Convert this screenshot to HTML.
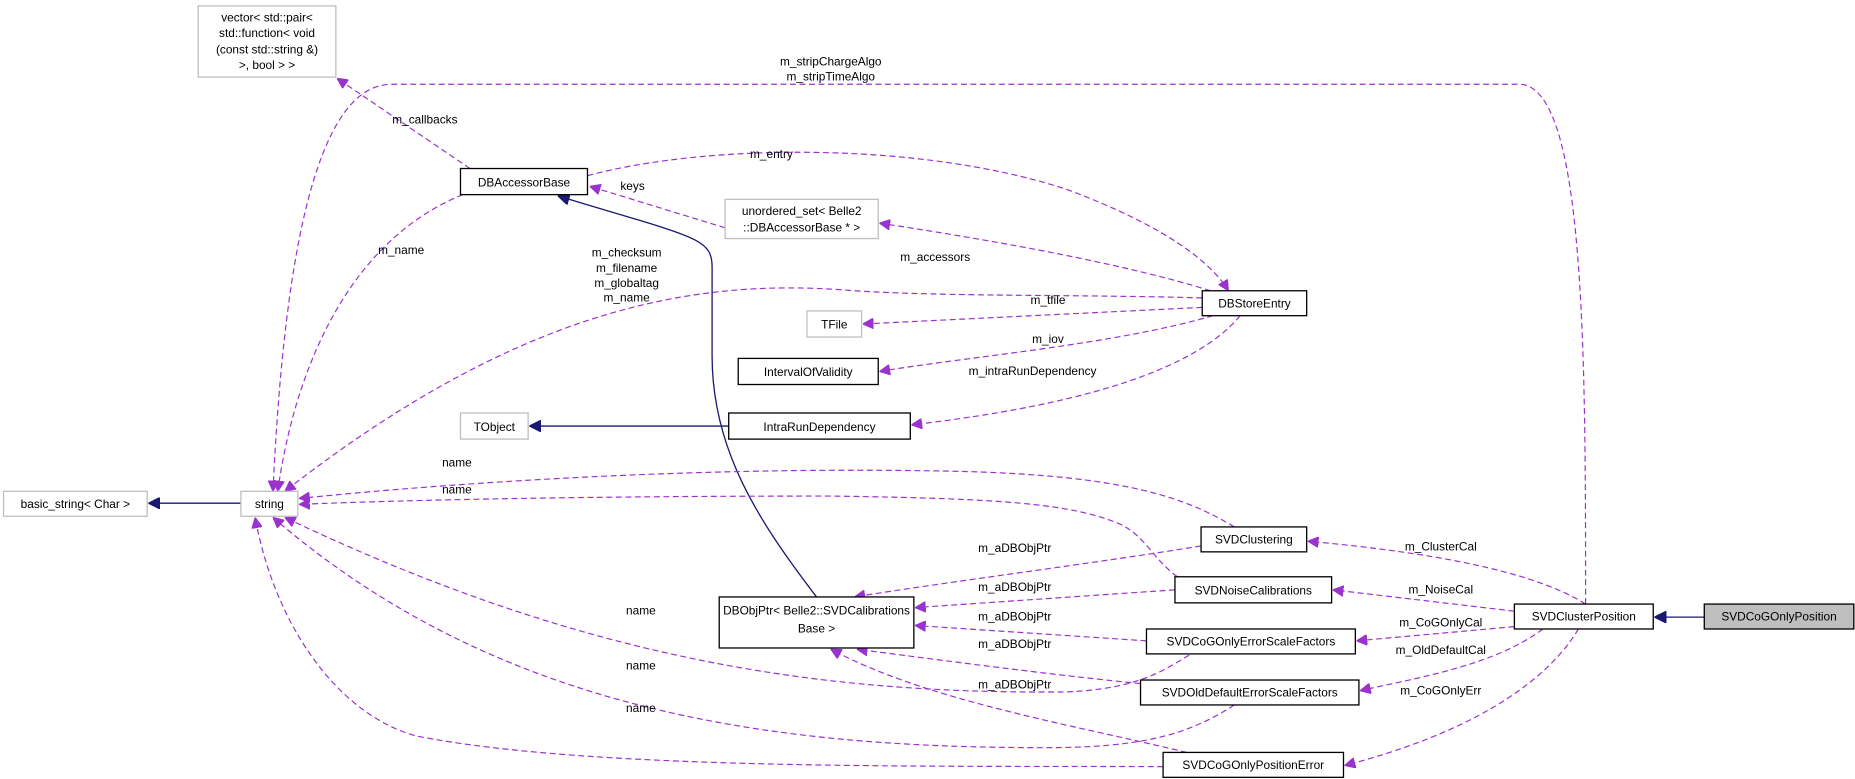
<!DOCTYPE html>
<html><head><meta charset="utf-8"><style>
html,body{margin:0;padding:0;background:#fff;}
svg{display:block;}
text{font-family:"Liberation Sans",Arial,sans-serif;font-size:10px;fill:#000;}
.n{fill:#fff;stroke:#000;stroke-width:1.1;}
.g{fill:#fff;stroke:#bfbfbf;stroke-width:1.1;}
.e{fill:none;stroke:#9a32cd;stroke-width:1;stroke-dasharray:5,3;}
.i{fill:none;stroke:#191970;stroke-width:1.1;}
</style></head><body>
<svg width="1855" height="779" viewBox="0 0 1563 656.4" preserveAspectRatio="none" xmlns="http://www.w3.org/2000/svg">
<defs>
<marker id="p" viewBox="0 0 10 10" refX="10" refY="5" markerWidth="9" markerHeight="9" orient="auto" markerUnits="userSpaceOnUse"><path d="M0,0 L10,5 L0,10 z" fill="#9a32cd" stroke="#9a32cd"/></marker>
<marker id="b" viewBox="0 0 10 10" refX="10" refY="5" markerWidth="10" markerHeight="10" orient="auto" markerUnits="userSpaceOnUse"><path d="M0,0 L10,5 L0,10 z" fill="#191970" stroke="#191970"/></marker>
</defs>

<path class="e" marker-end="url(#p)" d="M1336,509 C1336,300 1336,71 1280,71 L330,71 C270,71 240,200 230,414"/>
<text x="700" y="55" text-anchor="middle">m_stripChargeAlgo</text>
<text x="700" y="68" text-anchor="middle">m_stripTimeAlgo</text>

<path class="e" marker-end="url(#p)" d="M396,142 L284,66"/>
<text x="358" y="104" text-anchor="middle">m_callbacks</text>

<path class="e" marker-end="url(#p)" d="M390,164 C300,200 250,300 234,414"/>
<text x="338" y="214" text-anchor="middle">m_name</text>

<path class="e" marker-end="url(#p)" d="M495,148 C600,120 780,120 900,160 C980,190 1020,220 1035,245"/>
<text x="650" y="133" text-anchor="middle">m_entry</text>

<path class="e" marker-end="url(#p)" d="M611,192 L497,157"/>
<text x="533" y="160" text-anchor="middle">keys</text>

<path class="e" marker-end="url(#p)" d="M1020,245 C940,220 820,200 741,188"/>
<text x="788" y="220" text-anchor="middle">m_accessors</text>

<path class="e" marker-end="url(#p)" d="M1013,251 C900,248 800,250 720,245 C600,235 450,250 240,414"/>
<text x="528" y="216" text-anchor="middle">m_checksum</text>
<text x="528" y="229" text-anchor="middle">m_filename</text>
<text x="528" y="242" text-anchor="middle">m_globaltag</text>
<text x="528" y="254" text-anchor="middle">m_name</text>

<path class="e" marker-end="url(#p)" d="M1013,259 L727,273"/>
<text x="883" y="256" text-anchor="middle">m_tfile</text>

<path class="e" marker-end="url(#p)" d="M1022,266 C940,290 820,300 741,313"/>
<text x="883" y="289" text-anchor="middle">m_iov</text>

<path class="e" marker-end="url(#p)" d="M1045,266 C1000,320 880,345 768,358"/>
<text x="870" y="316" text-anchor="middle">m_intraRunDependency</text>

<path class="i" marker-end="url(#b)" d="M614,359 L446,359"/>
<path class="i" marker-end="url(#b)" d="M203,424 L125,424"/>
<path class="i" marker-end="url(#b)" d="M688,503 C640,440 600,380 600,300 L600,225 C600,200 585,200 470,165"/>

<path class="e" marker-end="url(#p)" d="M1040,444 C1000,420 950,400 800,397 C600,393 400,405 252,420"/>
<text x="385" y="393" text-anchor="middle">name</text>

<path class="e" marker-end="url(#p)" d="M992,486 C970,470 965,450 940,440 C900,425 850,420 700,418 C500,418 350,421 252,425"/>
<text x="385" y="416" text-anchor="middle">name</text>

<path class="e" marker-end="url(#p)" d="M1012,460 C920,475 800,490 720,503"/>
<text x="855" y="465" text-anchor="middle">m_aDBObjPtr</text>
<path class="e" marker-end="url(#p)" d="M990,497 L771,512"/>
<text x="855" y="498" text-anchor="middle">m_aDBObjPtr</text>
<path class="e" marker-end="url(#p)" d="M966,540 L771,527"/>
<text x="855" y="523" text-anchor="middle">m_aDBObjPtr</text>
<path class="e" marker-end="url(#p)" d="M961,576 C900,570 820,560 722,547"/>
<text x="855" y="546" text-anchor="middle">m_aDBObjPtr</text>
<path class="e" marker-end="url(#p)" d="M1000,634 C900,610 780,590 700,547"/>
<text x="855" y="580" text-anchor="middle">m_aDBObjPtr</text>

<path class="e" marker-end="url(#p)" d="M1002,552 C980,565 960,580 900,583 C700,585 500,560 240,436"/>
<text x="540" y="518" text-anchor="middle">name</text>
<path class="e" marker-end="url(#p)" d="M1040,594 C1000,620 960,630 880,630 C650,630 420,600 230,436"/>
<text x="540" y="564" text-anchor="middle">name</text>
<path class="e" marker-end="url(#p)" d="M980,646 C800,645 500,650 350,620 C280,600 230,520 215,436"/>
<text x="540" y="600" text-anchor="middle">name</text>

<path class="e" marker-end="url(#p)" d="M1336,509 C1290,480 1200,465 1102,456"/>
<text x="1214" y="464" text-anchor="middle">m_ClusterCal</text>
<path class="e" marker-end="url(#p)" d="M1276,515 L1123,497"/>
<text x="1214" y="500" text-anchor="middle">m_NoiseCal</text>
<path class="e" marker-end="url(#p)" d="M1276,528 L1143,540"/>
<text x="1214" y="528" text-anchor="middle">m_CoGOnlyCal</text>
<path class="e" marker-end="url(#p)" d="M1300,530 C1260,560 1200,570 1146,582"/>
<text x="1214" y="551" text-anchor="middle">m_OldDefaultCal</text>
<path class="e" marker-end="url(#p)" d="M1330,530 C1300,580 1230,620 1133,645"/>
<text x="1214" y="585" text-anchor="middle">m_CoGOnlyErr</text>

<path class="i" marker-end="url(#b)" d="M1436,520 L1394,520"/>

<rect class="g" x="167" y="5" width="116" height="60"/>
<text x="225" y="18" text-anchor="middle">vector&lt; std::pair&lt;</text>
<text x="225" y="31" text-anchor="middle">std::function&lt; void</text>
<text x="225" y="45" text-anchor="middle">(const std::string &amp;)</text>
<text x="225" y="58" text-anchor="middle">&gt;, bool &gt; &gt;</text>

<rect class="n" x="388" y="142" width="107" height="22"/>
<text x="441.5" y="157" text-anchor="middle">DBAccessorBase</text>

<rect class="g" x="611" y="168" width="129" height="33"/>
<text x="675.5" y="181" text-anchor="middle">unordered_set&lt; Belle2</text>
<text x="675.5" y="195" text-anchor="middle">::DBAccessorBase * &gt;</text>

<rect class="n" x="1013" y="245" width="88" height="21"/>
<text x="1057" y="259" text-anchor="middle">DBStoreEntry</text>

<rect class="g" x="680" y="262" width="46" height="22"/>
<text x="703" y="277" text-anchor="middle">TFile</text>

<rect class="n" x="622" y="302" width="118" height="22"/>
<text x="681" y="317" text-anchor="middle">IntervalOfValidity</text>

<rect class="g" x="388" y="348" width="57" height="22"/>
<text x="416.5" y="363" text-anchor="middle">TObject</text>

<rect class="n" x="614" y="348" width="153" height="22"/>
<text x="690.5" y="363" text-anchor="middle">IntraRunDependency</text>

<rect class="g" x="3" y="414" width="121" height="21"/>
<text x="63.5" y="428" text-anchor="middle">basic_string&lt; Char &gt;</text>

<rect class="g" x="203" y="414" width="48" height="21"/>
<text x="227" y="428" text-anchor="middle">string</text>

<rect class="n" x="1012" y="444" width="89" height="21"/>
<text x="1056.5" y="458" text-anchor="middle">SVDClustering</text>

<rect class="n" x="990" y="486" width="132" height="22"/>
<text x="1056" y="501" text-anchor="middle">SVDNoiseCalibrations</text>

<rect class="n" x="606" y="503" width="164" height="43"/>
<text x="688" y="518" text-anchor="middle">DBObjPtr&lt; Belle2::SVDCalibrations</text>
<text x="688" y="533" text-anchor="middle">Base &gt;</text>

<rect class="n" x="966" y="530" width="176" height="21"/>
<text x="1054" y="544" text-anchor="middle">SVDCoGOnlyErrorScaleFactors</text>

<rect class="n" x="961" y="573" width="184" height="21"/>
<text x="1053" y="587" text-anchor="middle">SVDOldDefaultErrorScaleFactors</text>

<rect class="n" x="980" y="634" width="152" height="21"/>
<text x="1056" y="648" text-anchor="middle">SVDCoGOnlyPositionError</text>

<rect class="n" x="1276" y="509" width="117" height="21"/>
<text x="1334.5" y="523" text-anchor="middle">SVDClusterPosition</text>

<rect x="1436" y="509" width="126" height="21" fill="#bfbfbf" stroke="#000" stroke-width="1.1"/>
<text x="1499" y="523" text-anchor="middle">SVDCoGOnlyPosition</text>
</svg>
</body></html>
